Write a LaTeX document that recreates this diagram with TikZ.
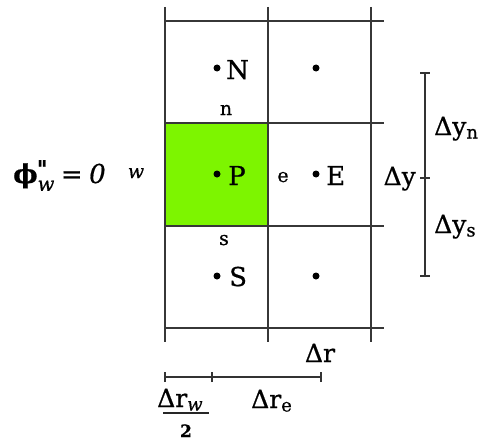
\documentclass[tikz,border=0pt]{standalone}
\usepackage{graphicx}
\usepackage{fontspec}
\setmainfont[FakeBold=0.7]{DejaVu Serif}
\definecolor{cellgreen}{RGB}{125,245,0}
\definecolor{gridgray}{RGB}{55,55,55}
\newcommand{\lowsub}[1]{\raisebox{-0.14em}{\scalebox{0.72}{#1}}}
\begin{document}
\begin{tikzpicture}[x=1pt,y=-1pt,
  gridline/.style={draw=gridgray, line width=1.1pt},
  dimline/.style={draw=black!80, line width=1.7pt},
  dot/.style={circle, fill=black, inner sep=0pt, minimum size=7pt},
  big/.style={font=\fontsize{26}{30}\selectfont, inner sep=0pt},
  small/.style={font=\fontsize{19}{22}\selectfont, inner sep=0pt},
  dimtext/.style={font=\fontsize{25}{30}\selectfont, inner sep=0pt},
]
\useasboundingbox (0,0) rectangle (487,444);
% grid coordinates
\coordinate (v1t) at (165,7);   \coordinate (v1b) at (165,342);
\coordinate (v2t) at (268,7);   \coordinate (v2b) at (268,342);
\coordinate (v3t) at (371,7);   \coordinate (v3b) at (371,342);
\coordinate (h1l) at (165,21);  \coordinate (h1r) at (384,21);
\coordinate (h2l) at (165,123); \coordinate (h2r) at (384,123);
\coordinate (h3l) at (165,226); \coordinate (h3r) at (384,226);
\coordinate (h4l) at (165,328); \coordinate (h4r) at (384,328);
% green control volume
\fill[cellgreen] (h2l) rectangle (268,226);
% grid
\draw[gridline] (v1t) -- (v1b);
\draw[gridline] (v2t) -- (v2b);
\draw[gridline] (v3t) -- (v3b);
\draw[gridline] (h1l) -- (h1r);
\draw[gridline] (h2l) -- (h2r);
\draw[gridline] (h3l) -- (h3r);
\draw[gridline] (h4l) -- (h4r);
% nodes (dots)
\node[dot] (N) at (217,68) {};
\node[dot] (NE) at (316,68) {};
\node[dot] (P) at (217,174) {};
\node[dot] (E) at (316,174) {};
\node[dot] (S) at (217,276) {};
\node[dot] (SE) at (316,276) {};
% node letters
\node[big, anchor=base west] (Nl) at (226,79) {N};
\node[big, anchor=base west] (Pl) at (228,185) {P};
\node[big, anchor=base west] (El) at (326,185) {E};
\node[big, anchor=base west] (Sl) at (229,286) {S};
% face labels
\node[small, anchor=base] (nf) at (226,115) {n};
\node[small, anchor=base] (sf) at (224,245) {s};
\node[small, anchor=base] (ef) at (283,182) {e};
\node[small, anchor=base] (wf) at (136,178) {\itshape w};
% boundary condition
\node[big, anchor=base west] (bc) at (13,183)
  {\textbf{ϕ}\rlap{\hspace{-0.05em}\raisebox{0.12em}{\textbf{ˈ\hspace{-0.12em}ˈ}}}\raisebox{-0.3em}{\scalebox{0.75}{\itshape w}}\hspace{0.25em}=\hspace{0.25em}\textit{0}};
% right dimension bracket
\coordinate (ry1) at (425,73);
\coordinate (ry2) at (425,178);
\coordinate (ry3) at (425,276);
\draw[dimline] (ry1) -- (ry3);
\draw[dimline] ([xshift=-5pt]ry1) -- ([xshift=5pt]ry1);
\draw[dimline] ([xshift=-5pt]ry2) -- ([xshift=5pt]ry2);
\draw[dimline] ([xshift=-5pt]ry3) -- ([xshift=5pt]ry3);
\node[dimtext, anchor=base east] (dy) at (416,185) {Δy};
\node[dimtext, anchor=base west] (dyn) at (434,135) {Δy\lowsub{n}};
\node[dimtext, anchor=base west] (dys) at (434,233) {Δy\lowsub{s}};
% delta r
\node[dimtext, anchor=base] (dr) at (320,362) {Δr};
% bottom dimension bracket
\coordinate (bx1) at (165,377);
\coordinate (bx2) at (212,377);
\coordinate (bx3) at (321,377);
\draw[dimline] (bx1) -- (bx3);
\draw[dimline] ([yshift=-5pt]bx1) -- ([yshift=5pt]bx1);
\draw[dimline] ([yshift=-5pt]bx2) -- ([yshift=5pt]bx2);
\draw[dimline] ([yshift=-5pt]bx3) -- ([yshift=5pt]bx3);
\node[dimtext, anchor=base west] (dre) at (251,408) {Δr\lowsub{e}};
% fraction  Δr_w / 2
\node[dimtext, anchor=base west] (drw) at (157,407) {Δr\lowsub{\itshape w}};
\coordinate (barl) at (163,413);
\coordinate (barr) at (209,413);
\draw[draw=black!85, line width=1.4pt] (barl) -- (barr);
\node[font=\fontsize{17}{20}\selectfont\bfseries, inner sep=0pt, anchor=base] (two) at (186,437) {2};
\end{tikzpicture}
\end{document}
